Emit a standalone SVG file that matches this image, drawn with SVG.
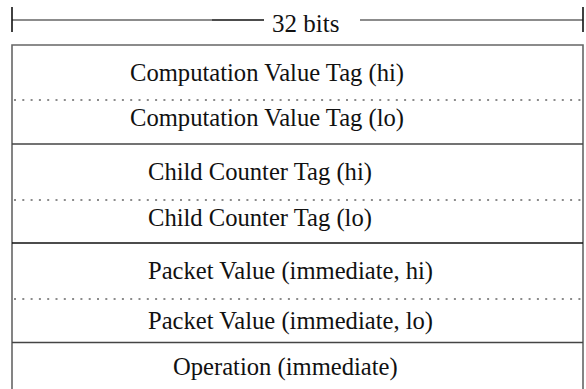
<svg xmlns="http://www.w3.org/2000/svg" width="586" height="389" viewBox="0 0 586 389">
<style>
.t{font-family:"Liberation Serif","Times New Roman",serif;font-size:24.6px;fill:#111}
.g{stroke:#666;stroke-width:1.6;fill:none}
.s{stroke:#444;stroke-width:1.6;fill:none}
.k{stroke:#111;stroke-width:1.6;fill:none}
.d{stroke:#666;stroke-width:1.6;stroke-dasharray:2 6.3;fill:none}
</style>
<rect width="586" height="389" fill="#fff"/>
<g id="dimension">
<line class="g" x1="12" y1="20" x2="212" y2="20"/>
<line class="k" x1="212" y1="20" x2="264" y2="20"/>
<line class="g" x1="360" y1="20" x2="583" y2="20"/>
<line class="k" x1="12" y1="7" x2="12" y2="32"/>
<line class="k" x1="583" y1="7" x2="583" y2="32"/>
<text class="t" x="272" y="32" style="font-size:25px">32 bits</text>
</g>
<g id="frame">
<path class="g" d="M12 389 V45 H583 V389"/>
</g>
<g id="connectors">
<line class="d" x1="14" y1="100" x2="582" y2="100"/>
<line class="s" x1="12" y1="144" x2="583" y2="144"/>
<line class="d" x1="14" y1="200" x2="582" y2="200"/>
<line class="k" x1="12" y1="243" x2="583" y2="243"/>
<line class="d" x1="14" y1="299" x2="582" y2="299"/>
<line class="s" x1="12" y1="342.5" x2="583" y2="342.5"/>
</g>
<g id="cv-hi"><text class="t" x="130" y="81">Computation Value Tag (hi)</text></g>
<g id="cv-lo"><text class="t" x="130" y="126">Computation Value Tag (lo)</text></g>
<g id="cc-hi"><text class="t" x="148" y="180">Child Counter Tag (hi)</text></g>
<g id="cc-lo"><text class="t" x="148" y="226">Child Counter Tag (lo)</text></g>
<g id="pv-hi"><text class="t" x="148" y="279">Packet Value (immediate, hi)</text></g>
<g id="pv-lo"><text class="t" x="148" y="329">Packet Value (immediate, lo)</text></g>
<g id="op"><text class="t" x="173" y="375">Operation (immediate)</text></g>
</svg>
